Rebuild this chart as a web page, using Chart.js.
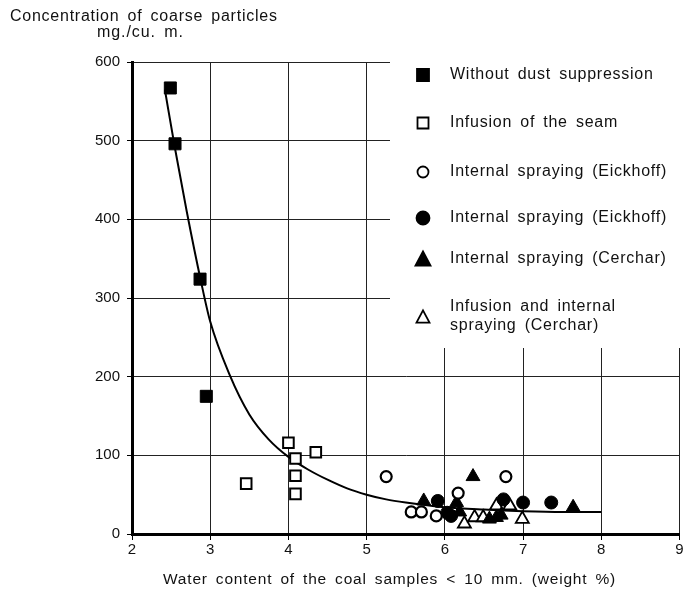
<!DOCTYPE html>
<html><head><meta charset="utf-8">
<script src="https://cdn.jsdelivr.net/npm/chart.js@4"></script>
<style>html,body{margin:0;padding:0;background:#fff}#wrap{width:689px;height:599px;position:relative}</style>
</head><body><div id="wrap"><canvas id="c" width="689" height="599"></canvas></div>
<script>
// ---- data ----
const xTicks = [2, 3, 4, 5, 6, 7, 8, 9];
const yTicks = [0, 100, 200, 300, 400, 500, 600];
const seriesNames = [
  "Without dust suppression",
  "Infusion of the seam",
  "Internal spraying (Eickhoff)",
  "Internal spraying (Eickhoff)",
  "Internal spraying (Cerchar)",
  "Infusion and internal|spraying (Cerchar)"
];
const noSuppX = [2.49, 2.55, 2.87, 2.95];
const noSuppY = [567, 496, 324, 175];
const seamX = [3.46, 4.0, 4.09, 4.09, 4.09, 4.35];
const seamY = [64, 116, 96, 74, 51, 104];
const eickOpenX = [5.25, 5.57, 5.70, 5.89, 6.17, 6.78];
const eickOpenY = [73, 28, 28, 23, 52, 73];
const eickFillX = [5.91, 6.03, 6.08, 6.75, 7.0, 7.36];
const eickFillY = [42, 27, 23, 44, 40, 40];
const cercharX = [5.73, 6.15, 6.19, 6.36, 6.57, 6.66, 6.72, 7.64];
const cercharY = [42, 40, 28, 73, 19, 21, 24, 34];
const infCercharX = [6.25, 6.38, 6.49, 6.66, 6.83, 6.99];
const infCercharY = [13, 21, 21, 36, 36, 19];
const curveX = [2.42, 2.55, 2.7, 2.88, 3.0, 3.25, 3.5, 3.75, 4.0, 4.25, 4.5, 4.75, 5.0, 5.25, 5.5, 6.0, 6.5, 7.0, 7.5, 8.0];
const curveY = [565, 490, 410, 322, 270, 202, 152, 120, 98, 82, 69, 58, 50, 44, 40, 34, 31, 29, 28, 28];

const pts = (xs, ys) => xs.map((x, i) => ({x: x, y: ys[i]}));
const FONT = '"Liberation Sans", Arial, Helvetica, sans-serif';

const marker = [
  {style: 'rect', r: 8.5, bg: '#000', bw: 1},
  {style: 'rect', r: 7.5, bg: '#fff', bw: 2},
  {style: 'circle', r: 5.5, bg: '#fff', bw: 2.2},
  {style: 'circle', r: 6.5, bg: '#000', bw: 1},
  {style: 'triangle', r: 8, bg: '#000', bw: 1},
  {style: 'triangle', r: 7.5, bg: '#fff', bw: 1.8}
];
const seriesData = [
  pts(noSuppX, noSuppY), pts(seamX, seamY), pts(eickOpenX, eickOpenY),
  pts(eickFillX, eickFillY), pts(cercharX, cercharY), pts(infCercharX, infCercharY)
];

const datasets = seriesData.map((d, i) => ({
  label: seriesNames[i].replace('|', ' '),
  data: d,
  showLine: false,
  pointStyle: marker[i].style,
  pointRadius: marker[i].r,
  pointHoverRadius: marker[i].r,
  backgroundColor: marker[i].bg,
  borderColor: '#000',
  pointBorderWidth: marker[i].bw,
  borderWidth: marker[i].bw,
  order: 1
}));
datasets.push({
  label: 'fit',
  data: pts(curveX, curveY),
  showLine: true,
  pointRadius: 0,
  borderColor: '#000',
  borderWidth: 2,
  cubicInterpolationMode: 'monotone',
  order: 10
});

function drawMarker(ctx, style, x, y, filled) {
  ctx.save();
  ctx.fillStyle = filled ? '#000' : '#fff';
  ctx.strokeStyle = '#000';
  ctx.lineWidth = 1.8;
  ctx.beginPath();
  if (style === 'rect') {
    const s = filled ? 12 : 11;
    ctx.rect(x - s / 2, y - s / 2, s, s);
  } else if (style === 'circle') {
    ctx.arc(x, y, filled ? 6.5 : 5.5, 0, Math.PI * 2);
  } else {
    const s = filled ? 15 : 13, h = s * 0.866;
    ctx.moveTo(x, y - h / 2 - 1);
    ctx.lineTo(x + s / 2, y + h / 2);
    ctx.lineTo(x - s / 2, y + h / 2);
    ctx.closePath();
  }
  ctx.fill();
  ctx.stroke();
  ctx.restore();
}

// draw text stretched to a measured width (letter spacing)
function fitText(ctx, text, x, y, width) {
  ctx.letterSpacing = '0px';
  const w = ctx.measureText(text).width;
  const sp = (width - w) / Math.max(1, text.length - 1);
  ctx.letterSpacing = sp.toFixed(2) + 'px';
  ctx.fillText(text, x, y);
  ctx.letterSpacing = '0px';
  return sp;
}

const deco = {
  id: 'deco',
  beforeDatasetsDraw(chart) {
    const ctx = chart.ctx;
    ctx.save();
    ctx.fillStyle = '#fff';
    ctx.fillRect(390, 0, 299, 348);
    ctx.fillStyle = '#111';
    ctx.font = '16px ' + FONT;
    ctx.wordSpacing = '3px';
    ctx.textBaseline = 'middle';
    ctx.textAlign = 'left';
    const ys = [75, 123, 172, 218, 259, 317];
    ctx.letterSpacing = '0px';
    const w0 = ctx.measureText(seriesNames[0]).width;
    const sp = ((203 - w0) / (seriesNames[0].length - 1)).toFixed(2) + 'px';
    seriesNames.forEach((n, i) => {
      drawMarker(ctx, marker[i].style, 423, ys[i], marker[i].bg === '#000');
      ctx.letterSpacing = sp;
      const lines = n.split('|');
      if (lines.length === 1) ctx.fillText(lines[0], 450, ys[i]);
      else { ctx.fillText(lines[0], 450, ys[i] - 10); ctx.fillText(lines[1], 450, ys[i] + 9); }
    });
    ctx.restore();
  },
  afterDraw(chart) {
    const ctx = chart.ctx;
    ctx.save();
    ctx.fillStyle = '#111';
    ctx.font = '16px ' + FONT;
    ctx.wordSpacing = '3px';
    ctx.textBaseline = 'alphabetic';
    ctx.textAlign = 'left';
    fitText(ctx, 'Concentration of coarse particles', 10, 21, 267);
    fitText(ctx, 'mg./cu. m.', 97, 37, 86);
    ctx.font = '15.5px ' + FONT;
    fitText(ctx, 'Water content of the coal samples < 10 mm. (weight %)', 163, 584, 452);
    ctx.restore();
  }
};

new Chart(document.getElementById('c'), {
  type: 'scatter',
  data: {datasets: datasets},
  options: {
    responsive: false,
    animation: false,
    layout: {padding: {top: 62, right: 5, left: 0, bottom: 0}},
    plugins: {legend: {display: false}, tooltip: {enabled: false}},
    scales: {
      x: {
        type: 'linear', min: xTicks[0], max: xTicks[xTicks.length - 1],
        afterBuildTicks: s => { s.ticks = xTicks.map(v => ({value: v})); },
        afterFit: s => { s.height = 65; },
        ticks: {color: '#111', font: {family: FONT, size: 15}, padding: 1, maxRotation: 0, autoSkip: false},
        grid: {color: '#222', lineWidth: 1, tickLength: 6, tickColor: '#000'},
        border: {color: '#000', width: 3}
      },
      y: {
        min: yTicks[0], max: yTicks[yTicks.length - 1],
        afterBuildTicks: s => { s.ticks = yTicks.map(v => ({value: v})); },
        afterFit: s => { s.width = 132; },
        ticks: {color: '#111', font: {family: FONT, size: 15}, padding: 7},
        grid: {color: '#222', lineWidth: 1, tickLength: 5, tickColor: '#000'},
        border: {color: '#000', width: 3}
      }
    }
  },
  plugins: [deco]
});
</script></body></html>
